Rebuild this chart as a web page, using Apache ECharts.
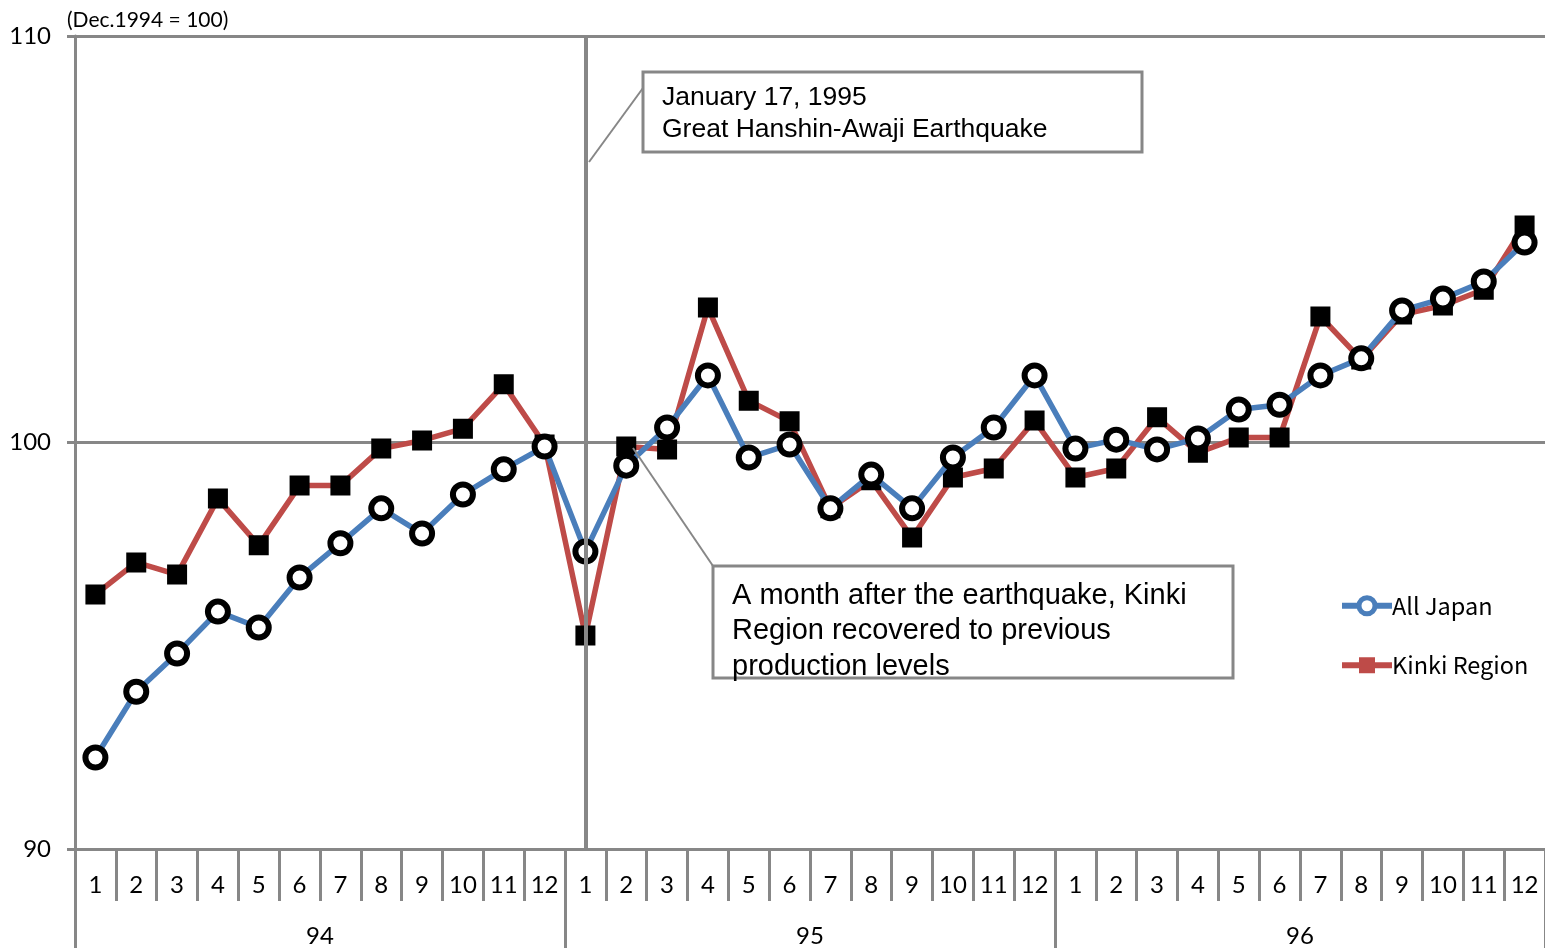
<!DOCTYPE html>
<html>
<head>
<meta charset="utf-8">
<script src="https://cdn.jsdelivr.net/npm/echarts@6/dist/echarts.min.js"></script>
<style>
  html, body { margin: 0; padding: 0; background: #fff; }
  #chart { width: 1545px; height: 948px; }
</style>
</head>
<body>
<div id="chart"></div>
<script>
// month and year tick labels
const months = ["1", "2", "3", "4", "5", "6", "7", "8", "9", "10", "11", "12"];
const years = ["94", "95", "96"];

// index, Dec.1994 = 100
const allJapan = [
  92.25, 93.87, 94.81, 95.84, 95.45, 96.68, 97.52, 98.38, 97.76, 98.72, 99.34, 99.9,
  97.32, 99.43, 100.37, 101.65, 99.63, 99.95, 98.38, 99.21, 98.38, 99.63, 100.37, 101.65,
  99.85, 100.07, 99.83, 100.1, 100.81, 100.93, 101.65, 102.07, 103.25, 103.54, 103.96, 104.92
];
const kinki = [
  96.26, 97.05, 96.75, 98.62, 97.47, 98.94, 98.94, 99.85, 100.05, 100.34, 101.43, 99.95,
  95.25, 99.9, 99.83, 103.32, 101.03, 100.52, 98.38, 99.07, 97.66, 99.14, 99.36, 100.54,
  99.14, 99.36, 100.62, 99.75, 100.12, 100.12, 103.1, 102.04, 103.15, 103.37, 103.76, 105.34
];

const quakeIndex = 12; // January 1995

const monthCats = [];
years.forEach(y => months.forEach(m => monthCats.push(y + "-" + m)));

const gray = "#878787";
const labelFont = "Lato";
const noteFont = "Liberation Sans";

const chart = echarts.init(document.getElementById("chart"));
chart.setOption({
  animation: false,
  title: {
    text: "(Dec.1994 = 100)",
    left: 62,
    top: 5,
    textStyle: { fontFamily: labelFont, fontSize: 21, fontWeight: "normal", color: "#000" }
  },
  grid: { left: 75, right: 0, top: 36, bottom: 99 },
  legend: {
    orient: "vertical",
    left: 1334,
    top: 589,
    itemWidth: 50,
    itemHeight: 20,
    itemGap: 36,
    textStyle: { fontFamily: "Noto Sans CJK JP", fontSize: 23.5, color: "#000", padding: [0, 0, 0, -5] },
    data: [
      {
        name: "All Japan",
        itemStyle: { color: "#fff", borderColor: "#4a7ebb", borderWidth: 5 },
        lineStyle: { width: 6 }
      },
      {
        name: "Kinki Region",
        itemStyle: { color: "#be4b48", borderColor: "#be4b48", borderWidth: 0 },
        lineStyle: { width: 6 }
      }
    ]
  },
  xAxis: [
    {
      type: "category",
      data: monthCats,
      boundaryGap: true,
      axisLine: { lineStyle: { color: gray, width: 3 } },
      axisTick: { show: true, interval: 0, length: 52, lineStyle: { color: gray, width: 3 } },
      axisLabel: {
        interval: 0,
        margin: 24,
        fontFamily: labelFont,
        fontSize: 24,
        color: "#000",
        formatter: v => v.split("-")[1]
      }
    },
    {
      type: "category",
      data: years,
      position: "bottom",
      boundaryGap: true,
      axisLine: { show: false },
      axisTick: { show: true, interval: 0, length: 110, lineStyle: { color: gray, width: 3 } },
      axisLabel: { interval: 0, margin: 75, fontFamily: labelFont, fontSize: 24, color: "#000" }
    }
  ],
  yAxis: {
    type: "value",
    min: 90,
    max: 110,
    interval: 10,
    axisLine: { show: true, lineStyle: { color: gray, width: 3 } },
    axisTick: { show: true, length: 8, lineStyle: { color: gray, width: 3 } },
    splitLine: { lineStyle: { color: gray, width: 3 } },
    axisLabel: { margin: 24, fontFamily: labelFont, fontSize: 24, color: "#000" }
  },
  series: [
    {
      name: "All Japan",
      type: "line",
      z: 3,
      data: allJapan,
      symbol: "circle",
      symbolSize: 20,
      lineStyle: { color: "#4a7ebb", width: 5.5 },
      itemStyle: { color: "#fff", borderColor: "#000", borderWidth: 6 },
      markLine: {
        silent: true,
        symbol: "none",
        label: { show: false },
        lineStyle: { color: gray, width: 4, type: "solid" },
        data: [{ xAxis: quakeIndex }]
      }
    },
    {
      name: "Kinki Region",
      type: "line",
      z: 2,
      data: kinki,
      symbol: "rect",
      symbolSize: 18,
      lineStyle: { color: "#be4b48", width: 5.5 },
      itemStyle: { color: "#000", borderColor: "#000", borderWidth: 2 }
    }
  ],
  graphic: [
    { type: "line", shape: { x1: 643, y1: 88, x2: 589, y2: 162 }, style: { stroke: gray, lineWidth: 2 }, z: 10 },
    { type: "rect", shape: { x: 643, y: 72, width: 499, height: 80 }, style: { fill: "#fff", stroke: gray, lineWidth: 3 }, z: 10 },
    {
      type: "text", left: 662, top: 82, z: 11,
      style: {
        text: "January 17, 1995\nGreat Hanshin-Awaji Earthquake",
        font: "26.5px '" + noteFont + "'",
        lineHeight: 32,
        fill: "#000"
      }
    },
    { type: "line", shape: { x1: 633, y1: 448, x2: 713, y2: 566 }, style: { stroke: gray, lineWidth: 2 }, z: 10 },
    { type: "rect", shape: { x: 713, y: 566, width: 520, height: 112 }, style: { fill: "#fff", stroke: gray, lineWidth: 3 }, z: 10 },
    {
      type: "text", left: 732, top: 578, z: 11,
      style: {
        text: "A month after the earthquake, Kinki\nRegion recovered to previous\nproduction levels",
        font: "29px '" + noteFont + "'",
        lineHeight: 35.5,
        fill: "#000"
      }
    }
  ]
});
</script>
</body>
</html>
